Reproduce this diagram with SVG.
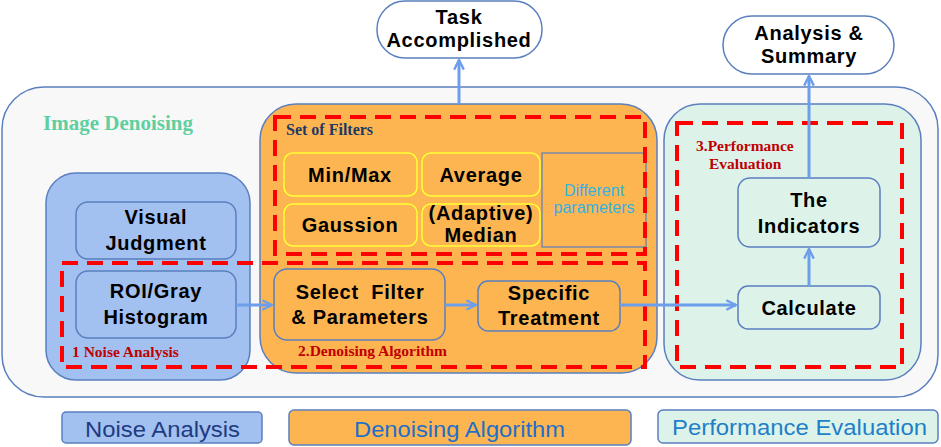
<svg xmlns="http://www.w3.org/2000/svg" width="941" height="447" viewBox="0 0 941 447">
<defs>
<marker id="ah" viewBox="0 0 10 10" refX="9" refY="5" markerWidth="4" markerHeight="4" orient="auto" markerUnits="strokeWidth">
<path d="M1,1 L9,5 L1,9" fill="none" stroke="#6d9eeb" stroke-width="2"/>
</marker>
<style>
.box{stroke:#5a7fbf;stroke-width:1.5}
.b{font-family:"Liberation Sans",Arial,sans-serif;font-weight:bold;font-size:20px;letter-spacing:0.7px;fill:#000;text-anchor:middle}
.s{font-family:"Liberation Serif","Times New Roman",serif;font-weight:bold}
.red{fill:#c00000;font-size:15.5px}
.dash{fill:none;stroke:#ff0000;stroke-width:4;stroke-dasharray:16 9}
.conn{fill:none;stroke:#6d9eeb;stroke-width:3;marker-end:url(#ah)}
.filt{fill:none;stroke:#ffff33;stroke-width:1.5}
.leg{font-family:"Liberation Sans",Arial,sans-serif;font-size:22px}
.p{font-family:"Liberation Sans",Arial,sans-serif;font-size:16px;fill:#2fb4e0;text-anchor:middle}
</style>
</defs>
<rect width="941" height="447" fill="#fff"/>
<g id="container">
<rect x="2" y="87" width="936" height="310" rx="42" fill="#f8f8f8" class="box"/>
<text x="43" y="130" class="s" font-size="21" fill="#5fcf9f">Image Denoising</text>
</g>
<g id="noise-group">
<rect x="46" y="173" width="204" height="207" rx="30" fill="#a2c0f0" class="box"/>
</g>
<g id="algo-group">
<rect x="260" y="104" width="397" height="269" rx="36" fill="#fdb552" class="box"/>
</g>
<g id="perf-group">
<rect x="664" y="104" width="257" height="276" rx="36" fill="#ddf3ea" class="box"/>
</g>
<g id="visual">
<rect x="76" y="202" width="160" height="57" rx="12" fill="#a2c0f0" class="box"/>
<text x="156" y="224" class="b">Visual</text>
<text x="156" y="250" class="b">Judgment</text>
</g>
<g id="roi">
<rect x="76" y="271" width="160" height="67" rx="12" fill="#a2c0f0" class="box"/>
<text x="156" y="298" class="b">ROI/Gray</text>
<text x="156" y="324" class="b">Histogram</text>
</g>
<g id="minmax">
<rect x="284" y="153" width="133" height="43" rx="9" class="filt"/>
<text x="350" y="182" class="b">Min/Max</text>
</g>
<g id="average">
<rect x="422" y="153" width="118" height="43" rx="9" class="filt"/>
<text x="481" y="182" class="b">Average</text>
</g>
<g id="gaussion">
<rect x="284" y="204" width="133" height="42" rx="9" class="filt"/>
<text x="350" y="232" class="b">Gaussion</text>
</g>
<g id="median">
<rect x="422" y="204" width="118" height="42" rx="9" class="filt"/>
<text x="481" y="220" class="b" font-size="19" letter-spacing="0.3">(Adaptive)</text>
<text x="481" y="242" class="b" font-size="19" letter-spacing="0.3">Median</text>
</g>
<g id="params">
<rect x="542" y="153" width="104" height="94" fill="none" stroke="#5a7fbf" stroke-width="1.2"/>
<text x="594" y="196" class="p">Different</text>
<text x="594" y="213" class="p">parameters</text>
</g>
<g id="select">
<rect x="274" y="269" width="171" height="71" rx="13" fill="#fdb552" class="box"/>
<text x="360" y="299" class="b" xml:space="preserve">Select  Filter</text>
<text x="360" y="324" class="b">&amp; Parameters</text>
</g>
<g id="specific">
<rect x="478" y="281" width="142" height="50" rx="10" fill="#fdb552" class="box"/>
<text x="549" y="300" class="b">Specific</text>
<text x="549" y="325" class="b">Treatment</text>
</g>
<g id="indicators">
<rect x="738" y="178" width="142" height="69" rx="12" fill="#ddf3ea" class="box"/>
<text x="809" y="207" class="b">The</text>
<text x="809" y="233" class="b">Indicators</text>
</g>
<g id="calculate">
<rect x="738" y="286" width="142" height="43" rx="10" fill="#ddf3ea" class="box"/>
<text x="809" y="315" class="b">Calculate</text>
</g>
<g id="analysis">
<rect x="723" y="16" width="171" height="58" rx="29" fill="#fff" class="box"/>
<text x="809" y="40" class="b" font-size="18" letter-spacing="0.3">Analysis &amp;</text>
<text x="809" y="63" class="b" font-size="18" letter-spacing="0.3">Summary</text>
</g>
<g id="task">
<rect x="377" y="1" width="165" height="57" rx="28" fill="#fff" class="box"/>
<text x="459" y="24" class="b" font-size="18" letter-spacing="0.3">Task</text>
<text x="459" y="47" class="b" font-size="18" letter-spacing="0.3">Accomplished</text>
</g>
<g id="dashed-regions">
<rect x="275" y="117" width="370" height="137" class="dash"/>
<rect x="62" y="263" width="583" height="104" class="dash"/>
<rect x="677" y="123" width="225" height="244" class="dash"/>
<text x="286" y="135" class="s" font-size="16" fill="#1f3864">Set of Filters</text>
<text x="72" y="357" class="s red">1 Noise Analysis</text>
<text x="298" y="356" class="s red">2.Denoising Algorithm</text>
<text x="696" y="151" class="s red">3.Performance</text>
<text x="709" y="169" class="s red">Evaluation</text>
</g>
<g id="connectors">
<path d="M236,305 H272" class="conn"/>
<path d="M445,305 H476" class="conn"/>
<path d="M620,305 H736" class="conn"/>
<path d="M809,286 V249" class="conn"/>
<path d="M809,178 V76" class="conn"/>
<path d="M459,104 V60" class="conn"/>
</g>
<g id="legend">
<rect x="62" y="412" width="200" height="31" rx="4" fill="#a2c0f0" class="box"/>
<text x="85" y="437" class="leg" fill="#1f3b80" textLength="155" lengthAdjust="spacingAndGlyphs">Noise Analysis</text>
<rect x="289" y="410" width="342" height="35" rx="5" fill="#fdb552" class="box"/>
<text x="354" y="437" class="leg" fill="#1f6fc8" textLength="211" lengthAdjust="spacingAndGlyphs">Denoising Algorithm</text>
<rect x="658" y="410" width="280" height="33" rx="5" fill="#ddf3ea" class="box"/>
<text x="672" y="435" class="leg" fill="#1f7fc8" textLength="255" lengthAdjust="spacingAndGlyphs">Performance Evaluation</text>
</g>
</svg>
